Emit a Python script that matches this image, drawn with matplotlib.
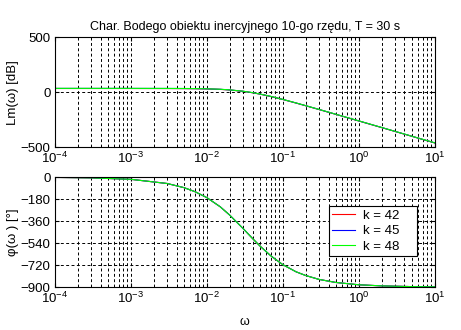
import numpy as np
import matplotlib
matplotlib.use("Agg")
import matplotlib.pyplot as plt
from matplotlib.ticker import LogLocator, FixedLocator

plt.rcParams['font.family'] = ['Liberation Sans', 'DejaVu Sans']
plt.rcParams['font.size'] = 9

# frequency points [rad/s]
omega = [1e-4, 3e-4, 1e-3, 3e-3, 5e-3, 7e-3, 1e-2, 1.5e-2, 2e-2, 3e-2, 4e-2,
         5e-2, 7e-2, 1e-1, 1.5e-1, 2e-1, 3e-1, 5e-1, 1, 2, 5, 10]

# magnitude [dB]
lm_k42 = [32.5, 32.5, 32.4, 32.1, 31.5, 30.6, 28.7, 24.5, 19.0, 6.7, -6.2,
          -18.7, -40.8, -67.5, -100.2, -124.4, -158.9, -203.0, -263.0,
          -323.1, -402.7, -462.9]
lm_k45 = [33.1, 33.1, 33.0, 32.7, 32.1, 31.2, 29.3, 25.1, 19.6, 7.3, -5.6,
          -18.1, -40.2, -66.9, -99.6, -123.8, -158.3, -202.4, -262.4,
          -322.5, -402.1, -462.3]
lm_k48 = [33.6, 33.6, 33.6, 33.2, 32.7, 31.7, 29.9, 25.6, 20.2, 7.8, -5.1,
          -17.6, -39.7, -66.4, -99.1, -123.2, -157.8, -201.8, -261.9,
          -322.0, -401.6, -461.8]

# phase [deg] (same for every k)
phase = [-1.7, -5.2, -17.2, -51.4, -85.3, -118.6, -167.0, -242.0, -310.0,
         -420.0, -502.0, -563.0, -645.0, -716.0, -775.0, -805.0, -837.0,
         -862.0, -881.0, -890.0, -896.0, -898.0]

labels = ["k = 42", "k = 45", "k = 48"]
colors = ["#ff0000", "#0000ff", "#00ff00"]
mags = [lm_k42, lm_k45, lm_k48]

fig = plt.figure(figsize=(4.61, 3.30), dpi=100)
ax1 = fig.add_axes([0.119, 0.5545, 0.824, 0.333])
ax2 = fig.add_axes([0.119, 0.130, 0.824, 0.333])

for lm, c, lab in zip(mags, colors, labels):
    ax1.plot(omega, lm, color=c, lw=0.8, label=lab)
    ax2.plot(omega, phase, color=c, lw=0.8, label=lab)

for ax in (ax1, ax2):
    ax.set_xscale('log')
    ax.set_xlim(1e-4, 10)
    ax.xaxis.set_major_locator(LogLocator(base=10, numticks=10))
    ax.xaxis.set_minor_locator(LogLocator(base=10, subs=np.arange(2, 10), numticks=10))
    ax.grid(True, which='both', axis='x', color='black', ls=(0, (3, 2.5)), lw=0.7)
    ax.grid(True, which='major', axis='y', color='black', ls=(0, (3, 2.5)), lw=0.7)
    ax.tick_params(which='both', direction='in', top=True, right=True,
                   labelsize=9.5, colors='black', pad=3)
    ax.tick_params(which='major', length=3)
    ax.tick_params(which='minor', length=1.5)
    for s in ax.spines.values():
        s.set_linewidth(0.8)

ax1.set_ylim(-500, 500)
ax1.yaxis.set_major_locator(FixedLocator([-500, 0, 500]))
ax1.set_ylabel("Lm(ω) [dB]", fontsize=9.5, labelpad=1)
ax1.set_title("Char. Bodego obiektu inercyjnego 10-go rzędu, T = 30 s",
              fontsize=9, pad=5)

ax2.set_ylim(-900, 0)
ax2.yaxis.set_major_locator(FixedLocator([-900, -720, -540, -360, -180, 0]))
ax2.set_ylabel("φ(ω ) [°]", fontsize=9.5, labelpad=1)
ax2.set_xlabel("ω", fontsize=9, labelpad=7)

leg = ax2.legend(loc='upper left', bbox_to_anchor=(0.721, 0.264, 0.232, 0.472),
                 mode='expand', borderaxespad=0,
                 fancybox=False, edgecolor='black', framealpha=1,
                 fontsize=9.5, handlelength=1.75, handletextpad=0.6,
                 borderpad=0.25, labelspacing=0.25)
leg.get_frame().set_linewidth(0.8)

fig.savefig("out.png", dpi=100)
